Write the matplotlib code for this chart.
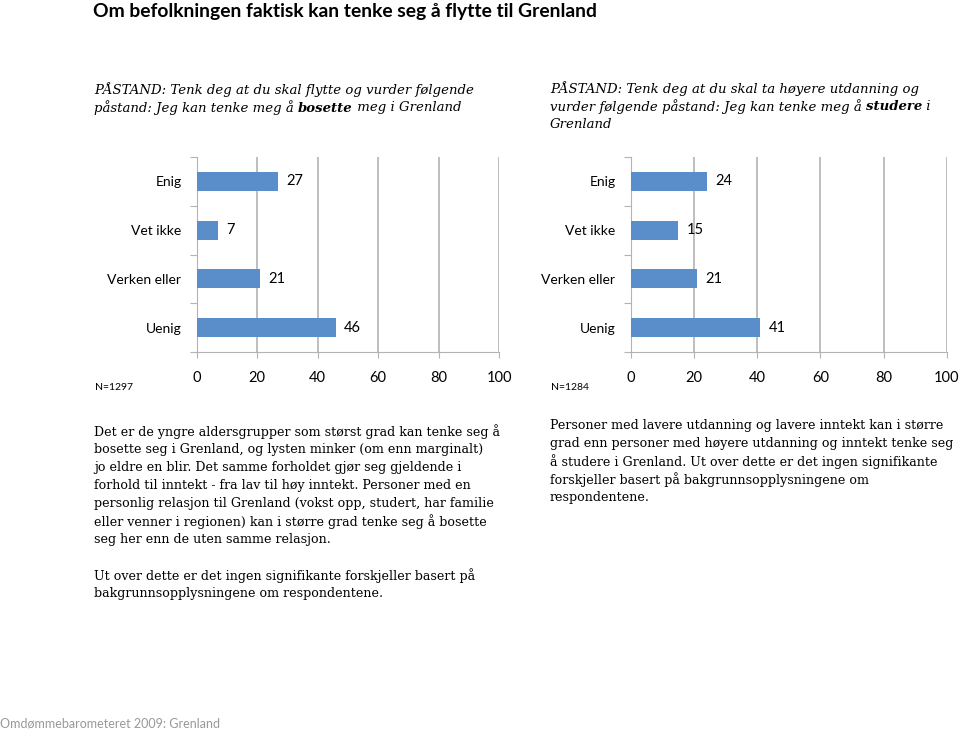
import matplotlib
matplotlib.use("Agg")
import matplotlib.pyplot as plt

categories = ["Enig", "Vet ikke", "Verken eller", "Uenig"]
bosette = [27, 7, 21, 46]
studere = [24, 15, 21, 41]
x_ticks = [0, 20, 40, 60, 80, 100]

title = "Om befolkningen faktisk kan tenke seg å flytte til Grenland"
footer = "Omdømmebarometeret 2009: Grenland"
n_left = "N=1297"
n_right = "N=1284"

stmt_left = [
    [("PÅSTAND: Tenk deg at du skal flytte og vurder følgende", "normal")],
    [("påstand: Jeg kan tenke meg å ", "normal"), ("bosette", "bold"), (" meg i Grenland", "normal")],
]
stmt_right = [
    [("PÅSTAND: Tenk deg at du skal ta høyere utdanning og", "normal")],
    [("vurder følgende påstand: Jeg kan tenke meg å ", "normal"), ("studere", "bold"), (" i", "normal")],
    [("Grenland", "normal")],
]
body_left = [
    "Det er de yngre aldersgrupper som størst grad kan tenke seg å",
    "bosette seg i Grenland, og lysten minker (om enn marginalt)",
    "jo eldre en blir. Det samme forholdet gjør seg gjeldende i",
    "forhold til inntekt - fra lav til høy inntekt. Personer med en",
    "personlig relasjon til Grenland (vokst opp, studert, har familie",
    "eller venner i regionen) kan i større grad tenke seg å bosette",
    "seg her enn de uten samme relasjon.",
    "",
    "Ut over dette er det ingen signifikante forskjeller basert på",
    "bakgrunnsopplysningene om respondentene.",
]
body_right = [
    "Personer med lavere utdanning og lavere inntekt kan i større",
    "grad enn personer med høyere utdanning og inntekt tenke seg",
    "å studere i Grenland. Ut over dette er det ingen signifikante",
    "forskjeller basert på bakgrunnsopplysningene om",
    "respondentene.",
]

W, H = 960, 733
fig = plt.figure(figsize=(9.6, 7.33), dpi=100)
SANS = ["Lato", "DejaVu Sans"]
SERIF = ["DejaVu Serif"]
BAR = "#5A8ECB"
GRID = "#B3B3B3"


def px(x, y):
    return x / W, 1 - y / H


def bar_panel(left, right, values):
    ax = fig.add_axes([left / W, 1 - 352 / H, (right - left) / W, 195 / H])
    pos = list(range(len(categories)))
    bars = ax.barh(pos, values, height=0.39, color=BAR, zorder=3)
    ax.set_ylim(3.5, -0.5)
    ax.set_xlim(0, 100)
    ax.set_xticks(x_ticks)
    ax.set_xticklabels([str(t) for t in x_ticks], fontfamily=SANS, fontsize=10.5)
    ax.tick_params(axis="x", length=4, color=GRID, pad=10)
    ax.set_yticks([-0.5, 0.5, 1.5, 2.5, 3.5])
    ax.set_yticklabels([])
    ax.tick_params(axis="y", which="major", length=5, color=GRID)
    ax.set_yticks(pos, minor=True)
    ax.set_yticklabels(categories, minor=True, fontfamily=SANS, fontsize=10)
    ax.tick_params(axis="y", which="minor", length=0, pad=11)
    ax.grid(axis="x", color=GRID, linewidth=1.2, zorder=0)
    for s in ["top", "right"]:
        ax.spines[s].set_visible(False)
    for s in ["left", "bottom"]:
        ax.spines[s].set_color(GRID)
    ax.bar_label(bars, labels=[str(v) for v in values], padding=6,
                 fontfamily=SANS, fontsize=10.5)
    return ax


bar_panel(196.7, 499, bosette)
bar_panel(630.7, 946.7, studere)

fig.text(*px(95, 388), n_left, fontfamily=SANS, fontsize=7.5, ha="left", va="center")
fig.text(*px(551, 388), n_right, fontfamily=SANS, fontsize=7.5, ha="left", va="center")

fig.text(*px(93, 12), title, fontfamily=SANS, fontweight="bold", fontsize=13.9,
         ha="left", va="center")

fig.canvas.draw()
renderer = fig.canvas.get_renderer()


def rich_lines(x0, y0, lines, step, size):
    for i, line in enumerate(lines):
        x = x0
        for txt, weight in line:
            t = fig.text(*px(x, y0 + i * step), txt, fontfamily=SERIF, style="italic",
                         fontweight=weight, fontsize=size, ha="left", va="center")
            x += t.get_window_extent(renderer).width


rich_lines(94, 90, stmt_left, 18, 9.5)
rich_lines(550, 89, stmt_right, 18, 9.5)

for i, line in enumerate(body_left):
    fig.text(*px(94, 432 + i * 18), line, fontfamily=SERIF, fontsize=9.1,
             ha="left", va="center")
for i, line in enumerate(body_right):
    fig.text(*px(550, 426 + i * 18), line, fontfamily=SERIF, fontsize=9.1,
             ha="left", va="center")

fig.text(*px(0, 723), footer, fontfamily=SANS, fontsize=9.0, color="#999999",
         ha="left", va="center")

fig.savefig("out.png", dpi=100)
